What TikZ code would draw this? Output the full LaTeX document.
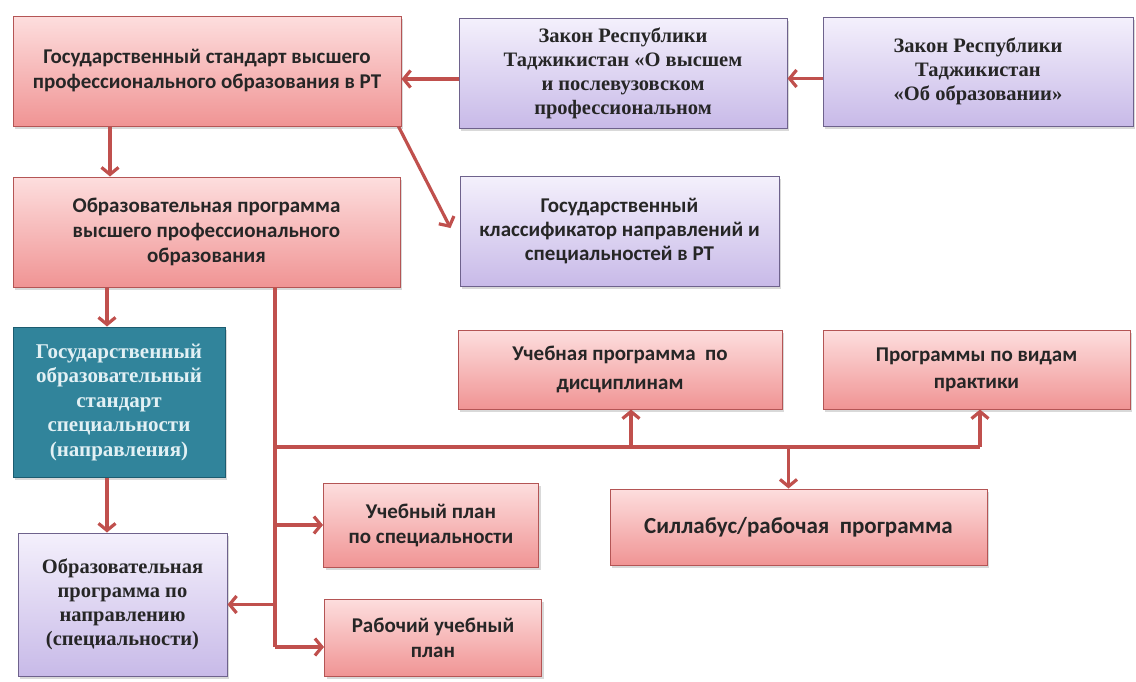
\documentclass[tikz,border=0pt]{standalone}
\usepackage{fontspec}
\setmainfont{Liberation Serif}
\setsansfont{Carlito}
\usetikzlibrary{arrows.meta,shadows,calc}
\definecolor{roselight}{RGB}{253,222,222}
\definecolor{rosedark}{RGB}{240,148,148}
\definecolor{roseline}{RGB}{180,85,85}
\definecolor{brick}{RGB}{192,80,77}
\definecolor{lilaclight}{RGB}{244,240,252}
\definecolor{lilacdark}{RGB}{200,186,232}
\definecolor{lilacline}{RGB}{110,98,140}
\definecolor{petrol}{RGB}{49,132,155}
\definecolor{petroldark}{RGB}{28,92,112}
\definecolor{foam}{RGB}{226,240,244}
\tikzset{
  >={Straight Barb[length=7pt,width=17pt]},
  box/.style={draw=#1,line width=1pt,align=center,
    drop shadow={opacity=0.3,shadow xshift=2pt,shadow yshift=-3pt}},
  box/.default=roseline,
  rosebox/.style={box=roseline,top color=roselight,bottom color=rosedark,
    font=\fontsize{21}{25}\selectfont\sffamily\bfseries,text=black!85},
  lawbox/.style={box=lilacline,top color=lilaclight,bottom color=lilacdark,
    font=\fontsize{20.5}{24}\selectfont\rmfamily\bfseries,text=black!85},
  lawsans/.style={lawbox,font=\fontsize{21}{24}\selectfont\sffamily\bfseries},
  stdbox/.style={box=petroldark,fill=petrol,text=foam,
    font=\fontsize{21}{24.5}\selectfont\rmfamily\bfseries},
  flow/.style={draw=brick,line width=3.2pt},
}
\begin{document}
\begin{tikzpicture}[x=1pt,y=-1pt]
  \useasboundingbox (0,0) rectangle (1136,681);
  % top row
  \node[rosebox,minimum width=388pt,minimum height=110pt] (b1) at (207,71)
    {Государственный стандарт высшего\\профессионального образования в РТ};
  \node[lawbox,minimum width=328pt,minimum height=110pt] (b2) at (623,73)
    {Закон Республики\\Таджикистан «О высшем\\и послевузовском\\профессиональном};
  \node[lawbox,minimum width=310pt,minimum height=109pt] (b3) at (978,71.5)
    {Закон Республики\\Таджикистан\\«Об образовании»};
  % second row
  \node[rosebox,minimum width=387pt,minimum height=110pt] (b4) at (206.5,232)
    {Образовательная программа\\высшего профессионального\\образования};
  \node[lawsans,minimum width=319pt,minimum height=110pt] (b5) at (619.5,231)
    {Государственный\\классификатор направлений и\\специальностей в РТ};
  % left column
  \node[stdbox,minimum width=212pt,minimum height=150pt] (b6) at (119,402)
    {Государственный\\образовательный\\стандарт\\специальности\\(направления)};
  \node[lawbox,minimum width=209pt,minimum height=143pt] (b11) at (122.5,604.5)
    {Образовательная\\программа по\\направлению\\(специальности)};
  % programmes
  \node[rosebox,minimum width=324pt,minimum height=79pt,
    font=\fontsize{21}{29}\selectfont\sffamily\bfseries] (b7) at (620,369.5)
    {Учебная программа\ \ по\\дисциплинам};
  \node[rosebox,minimum width=307pt,minimum height=79pt,
    font=\fontsize{21}{27}\selectfont\sffamily\bfseries] (b8) at (976.5,369.5)
    {Программы по видам\\практики};
  \node[rosebox,minimum width=215pt,minimum height=84pt] (b9) at (431,525)
    {Учебный план\\по специальности};
  \node[rosebox,minimum width=377pt,minimum height=76pt,
    font=\fontsize{23}{25}\selectfont\sffamily\bfseries] (b10) at (798.5,527)
    {Силлабус/рабочая\ \ программа};
  \node[rosebox,minimum width=217pt,minimum height=77pt] (b12) at (433,637.5)
    {Рабочий учебный\\план};
  % junctions
  \coordinate (tt) at (275,287);
  \coordinate (tb) at (275,647);
  \coordinate (hub) at (275,447);
  \coordinate (hr) at (980,447);
  % arrows
  \draw[flow,->] ([yshift=-6pt]b2.west) -- ([yshift=-6pt]b2.west -| b1.east);
  \draw[flow,->] ([yshift=-7pt]b3.west) -- ([yshift=-7pt]b3.west -| b2.east);
  \draw[flow,->] ([xshift=-97pt]b1.south) -- ([xshift=-97pt]b1.south |- b4.north);
  \draw[flow,->] ([xshift=-3pt]b1.south east) -- ([xshift=-9pt,yshift=3pt]b5.west);
  \draw[flow,->] ([xshift=-12pt]b6.north |- b4.south) -- ([xshift=-12pt]b6.north);
  \draw[flow,->] ([xshift=-12pt]b6.south) -- ([xshift=-12pt]b6.south |- b11.north);
  \draw[flow] (tt) -- (tb);
  \draw[flow,->] (tt |- b9.west) -- (b9.west);
  \draw[flow,->] (tb) -- (tb -| b12.west);
  \draw[flow,->] (tt |- b11.east) -- (b11.east);
  \draw[flow] (hub) -- (hr);
  \draw[flow,->] ([xshift=11pt]b7.south |- hub) -- ([xshift=11pt]b7.south);
  \draw[flow,->] (hr) -- (hr |- b8.south);
  \draw[flow,->] ([xshift=-10pt]b10.north |- hub) -- ([xshift=-10pt]b10.north);
\end{tikzpicture}
\end{document}
